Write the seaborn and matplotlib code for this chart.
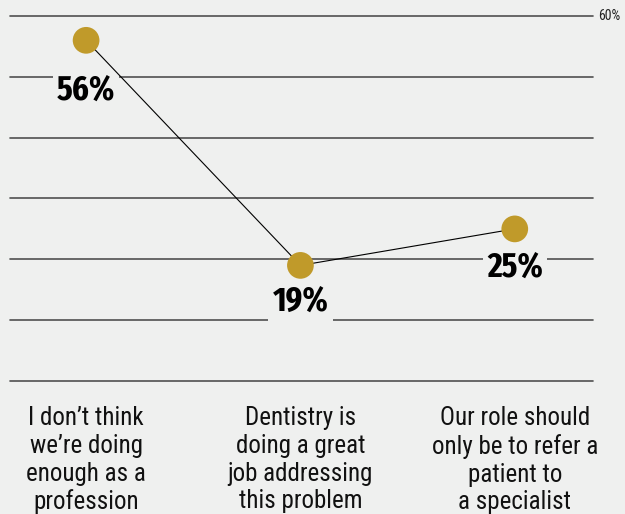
import matplotlib
matplotlib.use("Agg")
import matplotlib.pyplot as plt
import seaborn as sns
import pandas as pd

categories = [
    "I don\u2019t think\nwe\u2019re doing\nenough as a\nprofession",
    "Dentistry is\ndoing a great\njob addressing\nthis problem",
    "Our role should\nonly be to refer a\npatient to\na specialist",
]
values = [56, 19, 25]
value_labels = ["56%", "19%", "25%"]
y_ticks = [0, 10, 20, 30, 40, 50, 60]

BG = "#eff0ef"
GOLD = "#c09a2a"
GRID = "#505050"

sns.set_theme(style="white")
BODY_FONT = ["Roboto Condensed", "Barlow Semi Condensed", "DejaVu Sans"]
FIGURE_FONT = ["Fira Sans Extra Condensed", "Roboto Condensed", "DejaVu Sans"]
plt.rcParams["font.family"] = BODY_FONT

df = pd.DataFrame({"pos": range(len(categories)), "value": values})

fig = plt.figure(figsize=(6.25, 5.14), dpi=100, facecolor=BG)
ax = fig.add_axes([0.016, 0.2588, 0.9328, 0.7101])
ax.set_facecolor(BG)

for t in y_ticks:
    ax.axhline(t, color=GRID, lw=1.2, zorder=1, clip_on=False)

sns.lineplot(data=df, x="pos", y="value", ax=ax, color="black", lw=0.8,
             zorder=3, legend=False)
sns.scatterplot(data=df, x="pos", y="value", ax=ax, color=GOLD, s=370,
                edgecolor="none", zorder=4, legend=False)

# baseline offsets below each marker, in points
label_drop = [43, 33, 34.5]
for i, (v, lab) in enumerate(zip(values, value_labels)):
    ax.annotate(lab, (i, v), xytext=(0, -label_drop[i]), textcoords="offset points",
                ha="center", va="baseline", fontsize=25, fontweight="bold",
                family=FIGURE_FONT, color="black", zorder=2,
                bbox=dict(boxstyle="square,pad=0.12", fc=BG, ec="none"))

ax.set_xlim(-0.355, 2.365)
ax.set_ylim(0, 60)
ax.set_xticks([])
ax.set_yticks([])
ax.set_xlabel("")
ax.set_ylabel("")
for s in ax.spines.values():
    s.set_visible(False)

ax.text(1.009, 60, "60%", transform=ax.get_yaxis_transform(), ha="left",
        va="center", fontsize=10, color="#222222")

for i, c in enumerate(categories):
    ax.annotate(c, (i, 0), xytext=(0, -18), textcoords="offset points",
                ha="center", va="top", fontsize=18, color="#111111",
                linespacing=1.2, annotation_clip=False)

fig.savefig("out.png", dpi=100, facecolor=BG)
